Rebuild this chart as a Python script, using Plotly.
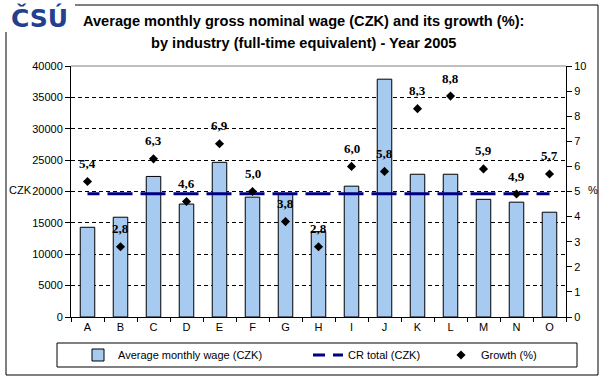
import plotly.graph_objects as go

categories = ["A", "B", "C", "D", "E", "F", "G", "H", "I", "J", "K", "L", "M", "N", "O"]
wage = [14300, 15900, 22400, 18000, 24650, 19100, 19600, 13600, 20850, 37900, 22750, 22750, 18750, 18300, 16700]
cr_total_value = 19650
cr_total = [cr_total_value] * len(categories)
growth = [5.4, 2.8, 6.3, 4.6, 6.9, 5.0, 3.8, 2.8, 6.0, 5.8, 8.3, 8.8, 5.9, 4.9, 5.7]
left_ticks = [0, 5000, 10000, 15000, 20000, 25000, 30000, 35000, 40000]
right_ticks = [0, 1, 2, 3, 4, 5, 6, 7, 8, 9, 10]

W, H = 604, 379
L, R, T, B = 71, 38, 66, 62
PW, PH = W - L - R, H - T - B

def px(x):
    return (x - L) / PW

def py(y):
    return (H - B - y) / PH

def cx(x):
    return x / W

def cy(y):
    return (H - y) / H

FONT = "Liberation Sans"

fig = go.Figure()
fig.add_trace(go.Bar(
    x=categories, y=wage, name="Average monthly wage (CZK)",
    marker=dict(color="#a6caf0", line=dict(color="black", width=1)),
    legend="legend", yaxis="y", showlegend=True))
fig.add_trace(go.Scatter(
    x=categories, y=cr_total, name="CR total (CZK)", mode="lines",
    line=dict(color="#000080", width=3, dash="12px,8px,13px,0px"),
    legend="legend2", yaxis="y", showlegend=True))
fig.add_trace(go.Scatter(
    x=categories, y=growth, name="Growth (%)", mode="markers",
    marker=dict(symbol="diamond", color="black", size=7),
    legend="legend3", yaxis="y2", showlegend=True))

annotations = []
for c, g in zip(categories, growth):
    annotations.append(dict(
        x=c, y=g, xref="x", yref="y2", yshift=18, showarrow=False,
        text="<b>" + f"{g:.1f}".replace(".", ",") + "</b>",
        font=dict(family="Liberation Serif", size=13, color="black")))

annotations += [
    dict(x=px(303), y=py(21), xref="paper", yref="paper", showarrow=False,
         text="<b>Average monthly gross nominal wage (CZK) and its growth (%):</b>",
         font=dict(family=FONT, size=14.6, color="black"), xanchor="center", yanchor="middle"),
    dict(x=px(303), y=py(43), xref="paper", yref="paper", showarrow=False,
         text="<b>by industry (full-time equivalent) - Year 2005</b>",
         font=dict(family=FONT, size=14.6, color="black"), xanchor="center", yanchor="middle"),
    dict(x=px(7), y=py(190), xref="paper", yref="paper", showarrow=False,
         text="CZK", font=dict(family=FONT, size=11, color="black"),
         xanchor="left", yanchor="middle"),
    dict(x=px(586), y=py(190), xref="paper", yref="paper", showarrow=False,
         text="%", font=dict(family=FONT, size=11, color="black"),
         xanchor="left", yanchor="middle"),
    dict(x=px(39), y=py(18), xref="paper", yref="paper", showarrow=False,
         text="<b>ČSÚ</b>", font=dict(family="DejaVu Sans", size=25, color="#22408e"),
         xanchor="center", yanchor="middle"),
]

shapes = [
    dict(type="rect", xref="paper", yref="paper", x0=px(6), x1=px(598), y0=py(375), y1=py(5),
         line=dict(color="black", width=1), fillcolor="rgba(0,0,0,0)", layer="above"),
    dict(type="rect", xref="paper", yref="paper", x0=px(2), x1=px(75), y0=py(32), y1=py(2),
         line=dict(width=0), fillcolor="white", layer="above"),
    dict(type="rect", xref="paper", yref="paper", x0=px(57), x1=px(577), y0=py(367), y1=py(343),
         line=dict(color="black", width=1), fillcolor="rgba(0,0,0,0)", layer="above"),
    dict(type="line", xref="paper", yref="paper", x0=0, x1=1, y0=1, y1=1,
         line=dict(color="#808080", width=1), layer="above"),
]

def leg(xpix):
    return dict(orientation="h", xref="container", yref="container",
                x=cx(xpix), y=cy(355), yanchor="middle", xanchor="left",
                bgcolor="rgba(0,0,0,0)", borderwidth=0,
                font=dict(family=FONT, size=11, color="black"))

fig.update_layout(
    width=W, height=H,
    margin=dict(l=L, r=R, t=T, b=B, pad=0, autoexpand=False),
    paper_bgcolor="white", plot_bgcolor="white",
    bargap=0.56,
    font=dict(family=FONT, size=11, color="black"),
    xaxis=dict(type="category", showline=True, linecolor="black", linewidth=1,
               ticks="outside", tickson="boundaries", ticklen=4, tickcolor="black",
               tickfont=dict(family=FONT, size=11, color="black"), showgrid=False,
               range=[-0.5, len(categories) - 0.5]),
    yaxis=dict(range=[0, 40000], tickvals=left_ticks, ticktext=[str(v) for v in left_ticks],
               showline=True, linecolor="black", linewidth=1, ticks="outside", ticklen=5,
               tickcolor="black", showgrid=True, gridcolor="black", griddash="4px,3px",
               gridwidth=1, zeroline=False, tickfont=dict(family=FONT, size=11, color="black")),
    yaxis2=dict(range=[0, 10], tickvals=right_ticks, overlaying="y", side="right",
                showline=True, linecolor="black", linewidth=1, ticks="outside", ticklen=5,
                tickcolor="black", showgrid=False, zeroline=False,
                tickfont=dict(family=FONT, size=11, color="black")),
    legend=leg(78),
    legend2=leg(308),
    legend3=leg(441),
    annotations=annotations,
    shapes=shapes,
)

fig.write_html("out.html", config={"displayModeBar": False},
               post_script="document.body.style.margin='0';document.body.style.padding='0';")
